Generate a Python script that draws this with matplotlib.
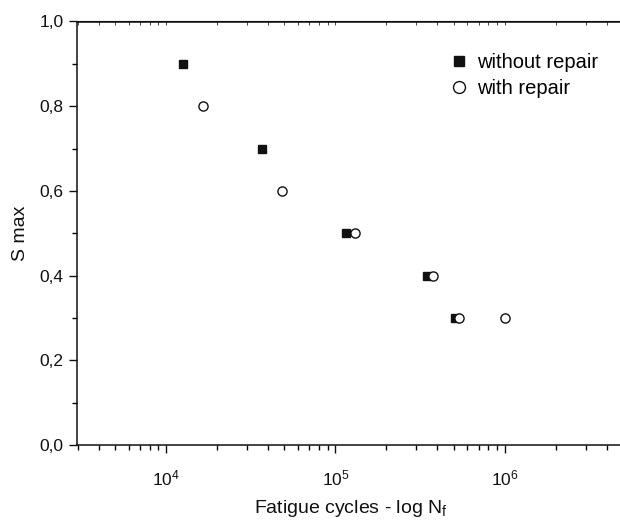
import numpy as np
import matplotlib.pyplot as plt
from matplotlib.ticker import FuncFormatter, MultipleLocator, LogLocator

plt.rcParams['font.family'] = ['Liberation Sans', 'DejaVu Sans']
plt.rcParams['mathtext.fontset'] = 'custom'
plt.rcParams['mathtext.rm'] = 'Liberation Sans'

# without repair
cyc_sem = [12600, 36800, 116000, 349000, 510000]
s_sem = [0.9, 0.7, 0.5, 0.4, 0.3]
# with repair
cyc_com = [16500, 48300, 130000, 379000, 540000, 1000000]
s_com = [0.8, 0.6, 0.5, 0.4, 0.3, 0.3]

fig = plt.figure(figsize=(6.2, 5.2), dpi=100)
ax = fig.add_axes([77 / 620, 75 / 520, 548 / 620, 423.5 / 520])

ax.plot(cyc_sem, s_sem, 's', color='#111111', markersize=5.8, linestyle='none',
        label='without repair')
ax.plot(cyc_com, s_com, 'o', markerfacecolor='white', markeredgecolor='#111111',
        markeredgewidth=1.0, markersize=6.6, linestyle='none', label='with repair')

ax.set_xscale('log')
ax.set_xlim(10 ** 3.474, 10 ** 6.71)
ax.set_ylim(0, 1.0)

ax.xaxis.set_major_locator(LogLocator(base=10, numticks=10))
ax.xaxis.set_minor_locator(LogLocator(base=10, subs=np.arange(2, 10), numticks=20))
ax.xaxis.set_major_formatter(FuncFormatter(lambda v, p: r'$\mathregular{10^{%d}}$' % round(np.log10(v))))
ax.yaxis.set_major_locator(MultipleLocator(0.2))
ax.yaxis.set_minor_locator(MultipleLocator(0.1))
ax.yaxis.set_major_formatter(FuncFormatter(lambda v, p: f'{v:.1f}'.replace('.', ',')))

ax.tick_params(axis='both', which='major', direction='out', length=6, width=1,
               labelsize=12.5, colors='#111111')
ax.tick_params(axis='both', which='minor', direction='out', length=3.5, width=1)
ax.tick_params(axis='x', which='major', pad=11)

ax.spines['right'].set_visible(False)
for s in ['left', 'bottom', 'top']:
    ax.spines[s].set_linewidth(1.1)
    ax.spines[s].set_color('#111111')

# small inward ticks along the top
sec = ax.secondary_xaxis('top')
sec.xaxis.set_major_locator(LogLocator(base=10, numticks=10))
sec.xaxis.set_minor_locator(LogLocator(base=10, subs=np.arange(2, 10), numticks=20))
sec.tick_params(which='both', direction='in', length=3, width=0.7, labeltop=False,
                colors='#444444')

ax.set_xlabel('Fatigue cycles - log N$_\\mathregular{f}$', fontsize=14, labelpad=7,
              color='#111111')
ax.set_ylabel('S max', fontsize=14, labelpad=8, color='#111111')

ax.legend(loc='upper left', bbox_to_anchor=((449 - 77) / 548, (445 - 53) / 423.5),
          frameon=False, fontsize=14.5, handletextpad=0.4, labelspacing=0.35,
          handlelength=1.0, borderaxespad=0, borderpad=0, markerscale=1.3)

fig.savefig('out.png', dpi=100)
